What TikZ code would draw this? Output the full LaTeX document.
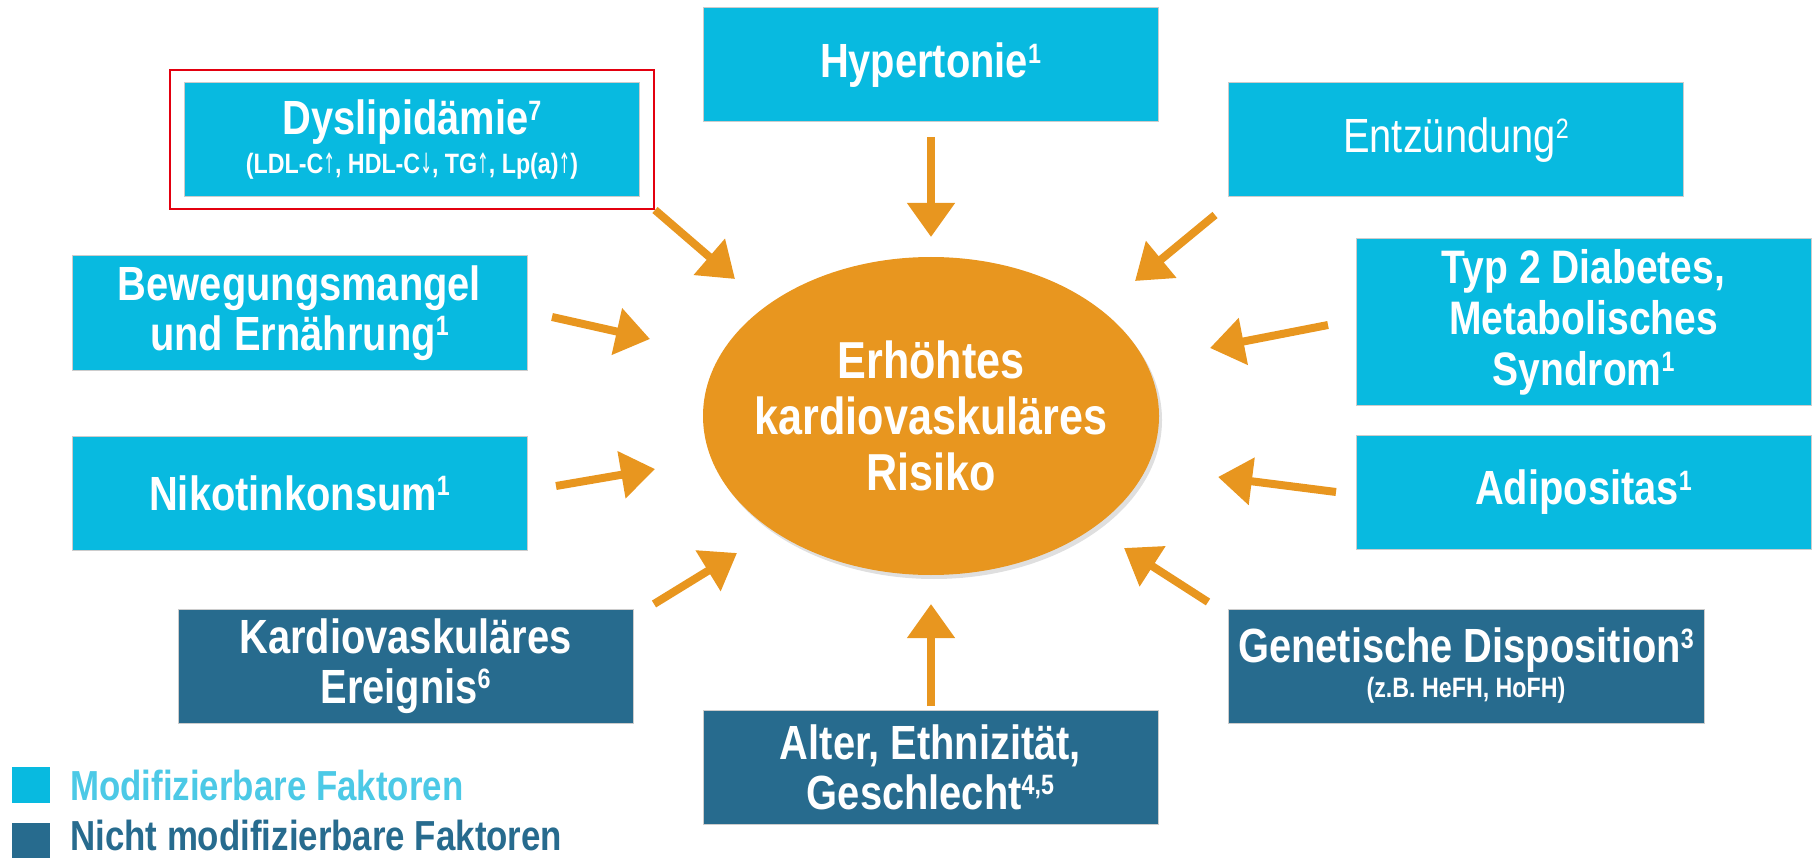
\documentclass[tikz,border=0pt]{standalone}
\usepackage{fontspec}
\setmainfont{Liberation Sans}[FakeStretch=0.83]
\newfontfamily\pfeilschrift{DejaVu Sans}[FakeStretch=0.5]
\usetikzlibrary{arrows.meta,shapes.geometric,shadows,fit}

\definecolor{modblau}{HTML}{08BAE0}
\definecolor{fixblau}{HTML}{276B8E}
\definecolor{legblau}{HTML}{4CC9E6}
\definecolor{risikoorange}{HTML}{E8961F}
\definecolor{rahmenrot}{HTML}{E3000F}

\newcommand{\hoch}[1]{\raisebox{0.3em}{\fontsize{28}{28}\selectfont #1}}
\newcommand{\klein}{\fontsize{28}{30}\selectfont}
\newcommand{\rauf}{{\pfeilschrift\mdseries ↑}}
\newcommand{\runter}{{\pfeilschrift\mdseries ↓}}

\begin{document}
\begin{tikzpicture}[x=1pt,y=-1pt,
    faktor/.style={fill=modblau, draw=black!20, line width=1pt, text=white,
        minimum width=455pt, minimum height=114pt, inner sep=0pt, align=center,
        font=\bfseries\fontsize{48}{50}\selectfont},
    fest/.style={faktor, fill=fixblau},
    pfeil/.style={draw=risikoorange, line width=8pt,
        -{Triangle[width=46pt,length=34pt]}},
    legende/.style={anchor=west, inner sep=0pt, font=\bfseries\fontsize{42}{44}\selectfont}]
    \useasboundingbox (0,0) rectangle (1814,858);

    % Mitte
    \node[ellipse, fill=risikoorange, minimum width=456pt, minimum height=318pt, inner sep=0pt,
          drop shadow={shadow xshift=3pt, shadow yshift=-4pt, opacity=0.25}]
          (risiko) at (931,416) {};
    \node[text=white, align=center, font=\bfseries\fontsize{52}{56}\selectfont]
          (risikotext) at (risiko.center) {Erhöhtes\\kardiovaskuläres\\Risiko};

    % modifizierbare Faktoren
    \node[faktor] (dys) at (412,140) {Dyslipidämie\hoch{7}\\[-11pt]{\klein (LDL-C\rauf, HDL-C\runter, TG\rauf, Lp(a)\rauf)}};
    \node[draw=rahmenrot, line width=2pt, inner xsep=14pt, inner ysep=12pt, fit=(dys)] (markierung) {};
    \node[faktor] (hyper) at (930.5,65) {Hypertonie\hoch{1}};
    \node[faktor, font=\mdseries\fontsize{48}{50}\selectfont] (entz) at (1456,140) {Entzündung\hoch{2}};
    \node[faktor] (beweg) at (299.5,313) {Bewegungsmangel\\und Ernährung\hoch{1}};
    \node[faktor, minimum height=166pt, font=\bfseries\fontsize{47}{51}\selectfont] (typzwei) at (1583.5,322) {Typ 2 Diabetes,\\Metabolisches\\Syndrom\hoch{1}};
    \node[faktor] (nikotin) at (299.5,493) {Nikotinkonsum\hoch{1}};
    \node[faktor] (adipos) at (1583.5,492) {Adipositas\hoch{1}};

    % nicht modifizierbare Faktoren
    \node[fest] (ereignis) at (405.5,666) {Kardiovaskuläres\\Ereignis\hoch{6}};
    \node[fest, minimum width=476pt] (genetik) at (1466,666) {Genetische Disposition\hoch{3}\\[-15pt]{\klein (z.B. HeFH, HoFH)}};
    \node[fest] (alter) at (930.5,767) {Alter, Ethnizität,\\Geschlecht\hoch{4,5}};

    % Pfeile
    \coordinate (dysA) at (655,210);      \coordinate (dysB) at (735,279);
    \coordinate (hyperA) at (931,137);    \coordinate (hyperB) at (931,237);
    \coordinate (entzA) at (1215,215);    \coordinate (entzB) at (1135,281);
    \coordinate (bewegA) at (552,317);    \coordinate (bewegB) at (650,339);
    \coordinate (typzweiA) at (1328,325); \coordinate (typzweiB) at (1210,348);
    \coordinate (nikotinA) at (556,486);  \coordinate (nikotinB) at (655,469);
    \coordinate (adiposA) at (1336,492);  \coordinate (adiposB) at (1218,477);
    \coordinate (ereignisA) at (654,604); \coordinate (ereignisB) at (737,553);
    \coordinate (alterA) at (931,706);    \coordinate (alterB) at (931,604);
    \coordinate (genetikA) at (1208,602); \coordinate (genetikB) at (1124,548);
    \draw[pfeil] (dysA) -- (dysB);
    \draw[pfeil] (hyperA) -- (hyperB);
    \draw[pfeil] (entzA) -- (entzB);
    \draw[pfeil] (bewegA) -- (bewegB);
    \draw[pfeil] (typzweiA) -- (typzweiB);
    \draw[pfeil] (nikotinA) -- (nikotinB);
    \draw[pfeil] (adiposA) -- (adiposB);
    \draw[pfeil] (ereignisA) -- (ereignisB);
    \draw[pfeil] (alterA) -- (alterB);
    \draw[pfeil] (genetikA) -- (genetikB);

    % Legende
    \node[fill=modblau, minimum width=38pt, minimum height=36pt, inner sep=0pt] (legmod) at (31,785) {};
    \node[fill=fixblau, minimum width=38pt, minimum height=36pt, inner sep=0pt] (legfix) at (31,841) {};
    \node[legende, text=legblau] (legmodtext) at (70,785) {Modifizierbare Faktoren};
    \node[legende, text=fixblau] (legfixtext) at (70,835) {Nicht modifizierbare Faktoren};
\end{tikzpicture}
\end{document}
